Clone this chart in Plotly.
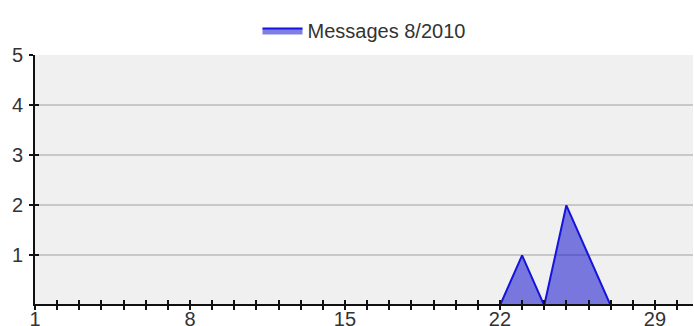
import plotly.graph_objects as go

# Daily message counts for August 2010
days = list(range(1, 32))
messages = [0, 0, 0, 0, 0, 0, 0, 0, 0, 0,
            0, 0, 0, 0, 0, 0, 0, 0, 0, 0,
            0, 0, 1, 0, 2, 1, 0, 0, 0, 0, 0]
series_name = "Messages 8/2010"

x_tick_vals = list(range(1, 32))
x_tick_text = [str(d) if (d - 1) % 7 == 0 else "" for d in x_tick_vals]
y_tick_vals = [1, 2, 3, 4, 5]

FONT = "Liberation Sans, Arial, sans-serif"
X_RANGE = [1, 30.72]
# the baseline sits just under the plot edge so the black axis line covers it
Y_RANGE = [0.03, 5]

fig = go.Figure()
fig.add_trace(go.Scatter(
    x=days, y=messages, name=series_name, mode="lines",
    fill="tozeroy", fillcolor="rgba(20, 20, 205, 0.55)",
    line=dict(color="#1414dc", width=2),
))
# empty companion trace so the overlay axes (inner tick halves) get drawn
fig.add_trace(go.Scatter(
    x=days, y=messages, xaxis="x2", yaxis="y2", mode="none",
    showlegend=False, hoverinfo="skip",
))

axis_common = dict(showline=True, linecolor="#111111", linewidth=2,
                   tickcolor="#111111", tickwidth=2, ticklen=4,
                   zeroline=False, automargin=False, layer="above traces")

fig.update_layout(
    width=694, height=326,
    margin=dict(l=35, r=1, t=55, b=22),
    paper_bgcolor="white", plot_bgcolor="#f0f0f0",
    font=dict(family=FONT, size=20, color="#333333"),
    showlegend=True,
    legend=dict(orientation="h", x=0.5, xanchor="center", y=0.966, yanchor="top",
                yref="container", font=dict(size=20, color="#333333"),
                itemwidth=40),
    xaxis=dict(range=X_RANGE, tickmode="array", tickvals=x_tick_vals,
               ticktext=x_tick_text, ticks="outside", showgrid=False,
               ticklabelstandoff=-8, **axis_common),
    yaxis=dict(range=Y_RANGE, tickmode="array", tickvals=y_tick_vals,
               ticks="outside", showgrid=True, gridcolor="#c8c8c8", gridwidth=1.5,
               ticklabelstandoff=2, **axis_common),
    xaxis2=dict(range=X_RANGE, overlaying="x", anchor="y2", side="bottom",
                tickmode="array", tickvals=x_tick_vals, ticks="inside",
                showticklabels=False, showgrid=False, **axis_common),
    yaxis2=dict(range=Y_RANGE, overlaying="y", anchor="x2", side="left",
                tickmode="array", tickvals=y_tick_vals, ticks="inside",
                showticklabels=False, showgrid=False, **axis_common),
)

fig.write_html("out.html")
